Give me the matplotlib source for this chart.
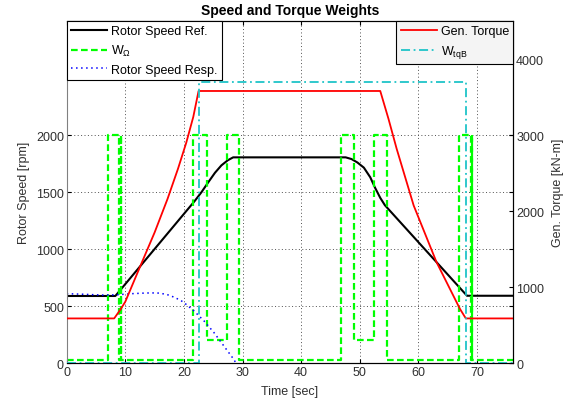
import numpy as np
import matplotlib.pyplot as plt

plt.rcParams['font.family'] = ['Liberation Sans', 'DejaVu Sans']
plt.rcParams['mathtext.fontset'] = 'custom'
plt.rcParams['mathtext.rm'] = 'Liberation Sans'

######
# data
######
time_ref = [0, 8.3, 21.8, 23.0, 24.2, 25.3, 26.4, 27.5, 28.4, 47.6, 48.6, 49.6,
            50.7, 51.8, 52.6, 53.5, 54.3, 68.3, 76.2]
speed_ref = [590, 590, 1420, 1500, 1590, 1670, 1735, 1780, 1805, 1805, 1790, 1760,
             1715, 1630, 1540, 1450, 1385, 592, 592]

time_resp = [0, 3, 6, 8.5, 11, 13.5, 15.4, 17, 18.3, 19.5, 20.3, 21.7, 23.4,
             25.1, 26.8, 28.5, 28.9]
speed_resp = [610, 605, 598, 600, 610, 616, 617, 605, 580, 550, 520, 460, 373,
              271, 153, 35, 0]

w_omega_t = [0, 7.0, 7.0, 8.9, 8.9, 9.3, 9.3, 9.3, 21.6, 21.6, 23.9, 23.9, 27.3,
             27.3, 29.4, 29.4, 46.8, 46.8, 49.1, 49.1, 52.5, 52.5, 54.6, 54.6,
             67.0, 67.0, 68.9, 68.9, 69.2, 69.2, 69.2, 76.2]
w_omega = [25, 25, 2000, 2000, 25, 25, 2000, 25, 25, 2000, 2000, 200, 200,
           2000, 2000, 25, 25, 2000, 2000, 200, 200, 2000, 2000, 25,
           25, 2000, 2000, 25, 25, 2000, 25, 25]

time_tq = [0, 8.1, 9.2, 10.0, 12.9, 15.0, 17.2, 19.0, 20.4, 21.6, 22.5, 53.5,
           54.9, 56.3, 59.2, 63.1, 67.1, 68.1, 76.2]
torque = [590, 590, 710, 810, 1340, 1720, 2160, 2560, 2900, 3240, 3580, 3580,
          3215, 2820, 2075, 1330, 715, 590, 590]

w_tq_t = [0, 22.5, 22.5, 68.1, 68.1, 76.2]
w_tq = [0, 0, 3700, 3700, 0, 0]

fig = plt.figure(figsize=(5.73, 4.06), dpi=100)
ax = fig.add_axes([0.1164, 0.1027, 0.7794, 0.8431])
ax2 = ax.twinx()

l_ref, = ax.plot(time_ref, speed_ref, color='black', lw=1.5, label='Rotor Speed Ref.')
l_w, = ax.plot(w_omega_t, w_omega, color='#00ff00', lw=1.6, dashes=(3, 1.5),
               label=r'W$_{\Omega}$')
l_resp, = ax.plot(time_resp, speed_resp, color='#0000ff', lw=1.1, dashes=(1, 2.3),
                  label='Rotor Speed Resp.')

l_tq, = ax2.plot(time_tq, torque, color='#ff0000', lw=1.3, label='Gen. Torque')
l_wtq, = ax2.plot(w_tq_t, w_tq, color='#1fc4c8', lw=1.3, dashes=(5, 2, 1, 2),
                  label=r'W$_{\mathrm{tqB}}$')

ax.set_xlim(0, 76.2)
ax.set_ylim(0, 3000)
ax2.set_ylim(0, 4500)
ax.set_xticks(np.arange(0, 71, 10))
ax.set_yticks([0, 500, 1000, 1500, 2000])
ax2.set_yticks([0, 1000, 2000, 3000, 4000])

ax.grid(True, color='#505050', linestyle=(0, (1, 2.5)), lw=0.7)

ax.tick_params(direction='in', length=3, labelsize=9, labelcolor='#303030',
               top=True, right=True, pad=2)
ax2.tick_params(direction='in', length=3, labelsize=9, labelcolor='#303030', pad=2)

ax.spines['left'].set_color('#808080')
for s in ['top', 'bottom']:
    ax.spines[s].set_color('black')
ax2.spines['right'].set_color('black')
ax2.spines['left'].set_visible(False)

ax.set_xlabel('Time [sec]', fontsize=9, color='#303030', labelpad=5)
ax.set_ylabel('Rotor Speed [rpm]', fontsize=9, color='#303030', labelpad=4)
ax2.set_ylabel('Gen. Torque [kN-m]', fontsize=9, color='#303030', labelpad=6)
ax.set_title('Speed and Torque Weights', fontsize=10, fontweight='bold', pad=5)

leg_kw = dict(fontsize=9, fancybox=False, edgecolor='black', framealpha=1,
              borderaxespad=0, handlelength=2.9, handletextpad=0.3,
              borderpad=0.35, labelspacing=0.45)
leg1 = ax2.legend([l_ref, l_w, l_resp], [l.get_label() for l in [l_ref, l_w, l_resp]],
                  loc='upper left', bbox_to_anchor=(0, 1), **leg_kw)
leg1.get_frame().set_linewidth(0.8)
ax2.add_artist(leg1)
leg2 = ax2.legend([l_tq, l_wtq], [l_tq.get_label(), l_wtq.get_label()],
                  loc='upper right', bbox_to_anchor=(1, 1), **leg_kw)
leg2.get_frame().set_linewidth(0.8)
leg2.get_frame().set_facecolor('#f4f4f4')

fig.savefig('out.png', dpi=100)
